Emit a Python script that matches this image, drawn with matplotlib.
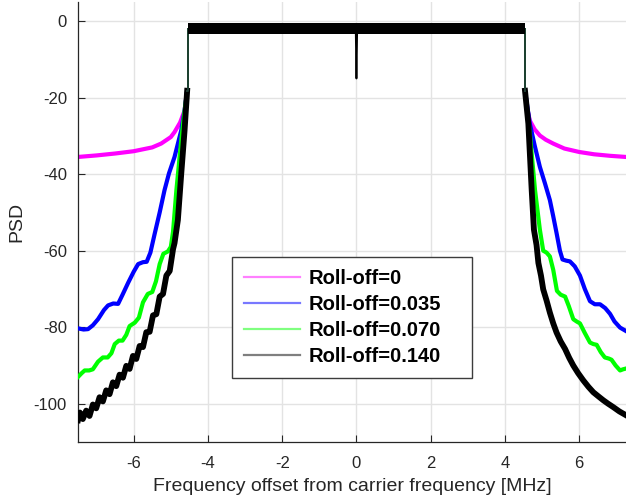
import matplotlib
matplotlib.use('Agg')
import matplotlib.pyplot as plt
from matplotlib.lines import Line2D

plt.rcParams['font.family'] = ['Liberation Sans', 'DejaVu Sans']
plt.rcParams['axes.unicode_minus'] = False

# skirts, in MHz / dB
mag_left_x = [-7.50, -7.0, -6.5, -6.0, -5.5, -5.26, -5.0, -4.9, -4.75, -4.63, -4.56]
mag_left_y = [-35.5, -35.1, -34.6, -34.0, -33.0, -32.0, -30.3, -29.0, -26.5, -23.4, -18.2]
mag_right_x = [4.54, 4.6, 4.67, 4.8, 4.94, 5.1, 5.30, 5.6, 6.0, 6.4, 6.83, 7.26]
mag_right_y = [-18.2, -23.0, -26.0, -28.3, -29.9, -31.0, -32.0, -33.3, -34.2, -34.8, -35.2, -35.5]

blue_left_x = [-7.50, -7.35, -7.23, -7.1, -6.96, -6.8, -6.69, -6.55, -6.42, -6.3, -6.15,
               -6.0, -5.88, -5.75, -5.65, -5.55, -5.44, -5.3, -5.17, -5.05, -4.90, -4.72,
               -4.63, -4.56]
blue_left_y = [-80.3, -80.6, -80.5, -79.5, -77.9, -75.5, -74.3, -73.8, -73.9, -71.5, -68.4,
               -65.5, -63.5, -63.0, -62.9, -60.5, -55.8, -50.0, -44.2, -39.8, -35.5, -28.6,
               -23.4, -18.2]
blue_right_x = [4.54, 4.67, 4.80, 4.94, 5.08, 5.21, 5.30, 5.39, 5.48, 5.55, 5.65, 5.75, 5.88,
                6.02, 6.15, 6.29, 6.42, 6.56, 6.70, 6.83, 6.95, 7.10, 7.26]
blue_right_y = [-18.2, -26.8, -32.5, -38.1, -42.5, -46.8, -51.0, -55.4, -60.0, -62.3, -62.6,
                -62.8, -64.1, -66.5, -70.0, -73.2, -74.0, -74.0, -75.0, -76.5, -78.5, -80.1,
                -81.0]

green_left_x = [-7.50, -7.40, -7.32, -7.20, -7.10, -6.96, -6.83, -6.70, -6.60, -6.51, -6.40,
                -6.30, -6.20, -6.11, -5.97, -5.86, -5.75, -5.62, -5.50, -5.40, -5.30, -5.20,
                -5.08, -5.0, -4.94, -4.85, -4.72, -4.65, -4.56]
green_left_y = [-93.0, -92.0, -91.3, -91.3, -91.0, -89.0, -87.9, -87.9, -86.8, -84.4, -83.5,
                -83.5, -82.0, -79.7, -78.8, -77.5, -73.5, -71.3, -70.8, -68.0, -63.5, -60.8,
                -60.2, -59.0, -55.0, -44.2, -31.2, -25.1, -18.2]
green_right_x = [4.54, 4.67, 4.81, 4.94, 5.03, 5.12, 5.21, 5.30, 5.40, 5.50, 5.62, 5.72, 5.84,
                 5.93, 6.02, 6.15, 6.29, 6.38, 6.47, 6.58, 6.69, 6.80, 6.87, 6.98, 7.10, 7.18,
                 7.26]
green_right_y = [-18.2, -29.4, -44.2, -54.5, -60.0, -60.5, -61.5, -65.0, -70.5, -71.5, -72.0,
                 -74.5, -77.9, -78.5, -79.0, -81.5, -84.0, -84.4, -84.6, -86.5, -87.9, -88.2,
                 -88.5, -90.0, -91.3, -91.0, -90.8]

black_left_x = [-7.50, -7.45, -7.37, -7.28, -7.19, -7.10, -7.01, -6.92, -6.83, -6.74, -6.65,
                -6.56, -6.47, -6.38, -6.29, -6.20, -6.11, -6.02, -5.93, -5.84, -5.75, -5.66,
                -5.57, -5.48, -5.39, -5.30, -5.21, -5.12, -5.03, -4.94, -4.90, -4.81, -4.72,
                -4.63, -4.56]
black_left_y = [-104.3, -102.3, -104.0, -101.8, -103.2, -100.2, -101.2, -98.3, -99.4, -96.5,
                -97.5, -94.4, -95.4, -92.4, -93.2, -90.1, -90.9, -87.5, -88.3, -84.9, -85.2,
                -81.3, -81.2, -76.9, -76.6, -72.0, -71.3, -66.5, -65.3, -59.6, -58.0, -52.0,
                -40.0, -28.6, -18.2]
black_right_x = [4.54, 4.63, 4.72, 4.78, 4.85, 4.90, 4.97, 5.03, 5.12, 5.21, 5.30, 5.39, 5.50,
                 5.62, 5.73, 5.84, 5.97, 6.11, 6.25, 6.38, 6.52, 6.65, 6.78, 6.92, 7.08, 7.26]
black_right_y = [-18.2, -26.8, -44.2, -54.5, -58.5, -63.2, -66.5, -70.1, -73.0, -76.2, -79.0,
                 -81.4, -83.7, -85.7, -88.0, -90.0, -92.0, -93.9, -95.6, -97.0, -98.1, -99.1,
                 -100.0, -100.9, -102.0, -103.0]

# flat passband (noisy between these limits) and the DC notch
band_edge = 4.53
band_level = -2.0
band_top = -0.5
band_bottom = -3.4
notch_x = [-0.02, 0.0, 0.02]
notch_y = [-2.0, -15.0, -2.0]

labels = ['Roll-off=0', 'Roll-off=0.035', 'Roll-off=0.070', 'Roll-off=0.140']
colors = ['#ff00ff', '#0000ff', '#00ff00', '#000000']
legend_colors = ['#ff80ff', '#7878ff', '#80ff80', '#7f7f7f']

series = [
    (mag_left_x, mag_left_y, mag_right_x, mag_right_y),
    (blue_left_x, blue_left_y, blue_right_x, blue_right_y),
    (green_left_x, green_left_y, green_right_x, green_right_y),
    (black_left_x, black_left_y, black_right_x, black_right_y),
]

fig = plt.figure(figsize=(6.26, 5.0), dpi=100, facecolor='white')
ax = fig.add_axes([78 / 626, 58 / 500, 548 / 626, 440 / 500])

for i, (lx, ly, rx, ry) in enumerate(series):
    lw = 4.2 if i == 3 else 3.0
    ax.plot(lx, ly, color=colors[i], lw=lw, zorder=2 + i)
    ax.plot(rx, ry, color=colors[i], lw=lw, zorder=2 + i)
    # steep band edges are drawn thin, as in the original
    edge_col = '#1e3c32' if i == 3 else colors[i]
    ax.plot([lx[-1], -band_edge, -band_edge], [ly[-1], -18.2, band_level],
            color=edge_col, lw=1.4, zorder=2 + i)
    ax.plot([band_edge, band_edge, rx[0]], [band_level, -18.2, ry[0]],
            color=edge_col, lw=1.4, zorder=2 + i)
    pad = 0.06 if i < 3 else 0.0
    ax.fill_between([-band_edge, band_edge], band_bottom - pad, band_top + pad,
                    color=colors[i], lw=0, zorder=2 + i)

ax.plot(notch_x, notch_y, color='black', lw=1.3, zorder=7)

ax.set_xlim(-7.5, 7.26)
ax.set_ylim(-110, 5)
ax.set_xticks([-6, -4, -2, 0, 2, 4, 6])
ax.set_yticks([-100, -80, -60, -40, -20, 0])
ax.grid(True, color='#e3e3e3', lw=1.0)
ax.set_axisbelow(True)
for side in ['top', 'right']:
    ax.spines[side].set_visible(False)
for side in ['left', 'bottom']:
    ax.spines[side].set_color('#262626')
    ax.spines[side].set_linewidth(0.9)
ax.tick_params(direction='in', length=5, colors='#262626', labelsize=12)
ax.tick_params(axis='x', pad=10)
ax.tick_params(axis='y', pad=8)
ax.set_xlabel('Frequency offset from carrier frequency [MHz]', fontsize=14,
              color='#262626', labelpad=5)
ax.set_ylabel('PSD', fontsize=14, color='#262626', labelpad=6)

handles = [Line2D([], [], color=c, lw=1.6) for c in legend_colors]
leg = ax.legend(handles, labels, loc='center', mode='expand',
                bbox_to_anchor=(0.281, 0.148, 0.438, 0.27),
                prop={'weight': 'bold', 'size': 14.5}, handlelength=2.8,
                labelspacing=0.36, borderpad=0.6, handletextpad=0.4,
                borderaxespad=0, fancybox=False, framealpha=1.0, edgecolor='#3c3c3c')
leg.get_frame().set_linewidth(1.0)
leg.set_zorder(10)

fig.savefig('out.png', dpi=100, facecolor='white')
